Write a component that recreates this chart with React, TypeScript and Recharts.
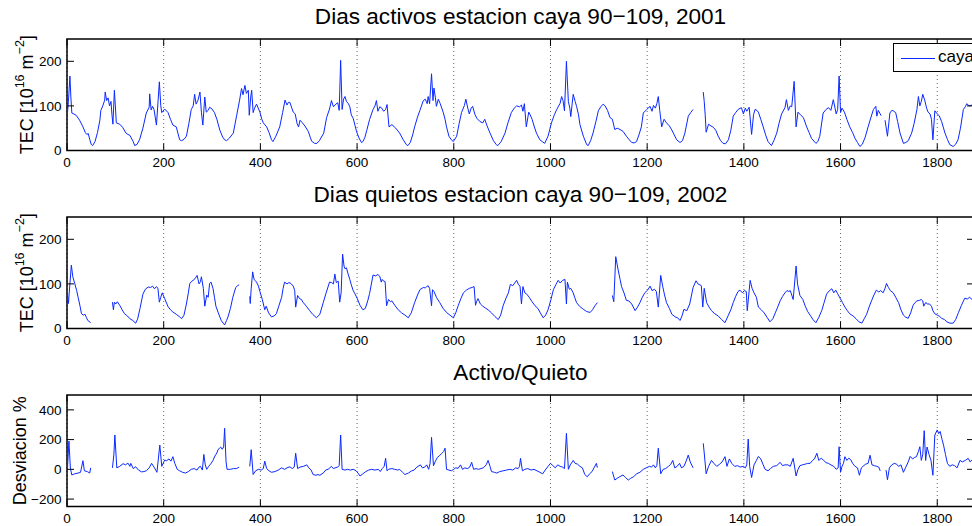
import React from 'react';
import { LineChart, Line, XAxis, YAxis, CartesianGrid, ReferenceArea, Legend } from 'recharts';

type P = [number, number | null];

// ---------- data ----------
const xTicks = [0, 200, 400, 600, 800, 1000, 1200, 1400, 1600, 1800];
const X_MAX = 1876;
const tecTicks = [0, 100, 200];
const tecDomain = [0, 250];
const devTicks = [-200, 0, 200, 400];
const devDomain = [-250, 500];

const title1 = 'Dias activos estacion caya 90\u2212109, 2001';
const title2 = 'Dias quietos estacion caya 90\u2212109, 2002';
const title3 = 'Activo/Quieto';
const legendName = 'caya';

const activo2001: P[] = [
  [0,73],[3,110],[6,167],[8,120],[10,84],[14,82],[19,79],[26,68],[33,53],[38,40],[41,36],[44,38],[47,25],[50,14],[53,11],[58,20],[63,40],[68,68],[70,90],[74,100],[78,113],[79,131],[82,112],[85,118],[88,100],[91,110],[93,80],[95,59],[98,135],[100,100],[102,62],[109,59],[115,52],[122,39],[126,36],[130,34],[137,20],[140,11],[145,14],[150,24],[157,50],[164,84],[170,97],[171,127],[174,91],[177,99],[180,92],[185,57],[191,154],[194,100],[196,85],[202,93],[209,85],[214,70],[219,57],[226,53],[233,24],[237,22],[242,25],[247,32],[252,60],[257,92],[261,100],[264,126],[267,104],[271,113],[275,131],[278,86],[281,57],[285,120],[288,86],[292,90],[295,97],[300,93],[305,85],[310,70],[316,46],[322,30],[326,24],[330,22],[336,28],[344,39],[351,79],[357,113],[361,139],[364,125],[368,146],[371,128],[375,135],[377,79],[380,120],[382,135],[385,85],[388,95],[392,104],[399,86],[403,70],[406,62],[413,53],[418,40],[423,24],[426,20],[432,32],[440,53],[446,85],[451,113],[455,102],[458,108],[461,108],[465,95],[468,86],[472,82],[476,60],[479,53],[482,68],[487,62],[492,55],[499,43],[503,30],[506,21],[512,16],[517,16],[522,22],[531,39],[537,74],[543,93],[547,112],[551,98],[556,104],[560,107],[563,90],[566,202],[569,92],[572,115],[575,121],[578,110],[582,105],[585,98],[588,80],[592,72],[596,55],[599,42],[604,28],[609,18],[612,20],[616,29],[620,45],[626,70],[633,92],[637,100],[640,112],[643,88],[647,98],[651,95],[655,88],[659,92],[662,103],[666,53],[672,58],[680,50],[688,39],[695,25],[702,13],[705,11],[710,18],[715,35],[719,53],[725,75],[730,90],[737,112],[741,115],[745,105],[747,121],[750,105],[754,172],[757,112],[759,140],[762,118],[764,99],[768,115],[772,105],[778,86],[782,70],[785,53],[790,32],[795,24],[799,20],[806,32],[811,60],[816,85],[822,101],[825,115],[829,95],[832,82],[836,95],[839,99],[844,80],[848,72],[854,65],[860,62],[864,70],[869,55],[875,39],[882,22],[888,13],[891,11],[898,20],[906,39],[912,62],[919,85],[925,95],[930,100],[936,98],[940,102],[943,88],[946,105],[950,53],[955,86],[958,80],[962,70],[966,55],[971,39],[978,24],[983,20],[988,16],[995,32],[1002,62],[1008,80],[1013,92],[1020,106],[1023,121],[1026,112],[1029,89],[1033,200],[1037,110],[1040,95],[1042,76],[1047,126],[1051,110],[1054,99],[1058,80],[1061,58],[1068,32],[1075,13],[1078,11],[1083,22],[1088,39],[1094,65],[1099,89],[1104,98],[1109,104],[1113,100],[1118,90],[1123,74],[1128,70],[1133,47],[1138,50],[1144,47],[1150,43],[1157,32],[1163,24],[1168,18],[1173,17],[1178,20],[1183,35],[1188,53],[1192,84],[1199,92],[1206,99],[1210,88],[1213,101],[1217,95],[1220,105],[1223,121],[1226,90],[1230,53],[1235,70],[1240,62],[1246,55],[1251,46],[1256,35],[1261,24],[1268,18],[1273,22],[1278,39],[1285,77],[1290,85],[1295,92],[1297,null],
  [1316,131],[1318,110],[1320,80],[1322,41],[1327,59],[1332,55],[1337,52],[1342,45],[1347,32],[1352,22],[1357,16],[1362,15],[1368,24],[1373,45],[1378,77],[1383,85],[1388,92],[1395,96],[1399,82],[1403,95],[1406,88],[1411,97],[1416,36],[1420,80],[1423,92],[1427,90],[1430,86],[1435,70],[1440,53],[1445,35],[1450,20],[1457,11],[1462,22],[1468,39],[1473,62],[1478,82],[1485,96],[1488,114],[1492,90],[1496,100],[1499,98],[1504,155],[1508,53],[1512,86],[1517,80],[1523,74],[1530,53],[1535,40],[1540,27],[1549,16],[1553,20],[1557,32],[1564,84],[1570,92],[1575,96],[1580,90],[1585,114],[1591,82],[1594,92],[1597,167],[1600,85],[1603,95],[1608,86],[1613,70],[1619,53],[1625,40],[1630,27],[1635,18],[1640,9],[1645,14],[1651,30],[1657,53],[1663,75],[1668,92],[1673,99],[1675,77],[1678,90],[1682,82],[1684,78],[1686,null],
  [1692,68],[1697,32],[1702,84],[1706,90],[1709,89],[1714,85],[1718,65],[1723,39],[1730,16],[1735,18],[1740,22],[1747,39],[1752,60],[1758,92],[1761,121],[1764,100],[1767,110],[1770,126],[1774,113],[1778,95],[1781,86],[1785,82],[1788,70],[1791,24],[1795,89],[1800,82],[1804,78],[1809,65],[1816,39],[1821,25],[1826,13],[1833,9],[1838,14],[1843,24],[1848,50],[1854,92],[1858,98],[1861,105],[1866,100],[1872,102],[1876,98],
];

const quieto2002: P[] = [
  [1,78],[3,56],[6,100],[9,142],[12,116],[16,101],[20,85],[23,70],[27,50],[30,33],[34,30],[37,32],[40,25],[43,18],[49,13],[50,null],
  [94,59],[96,42],[98,59],[101,55],[104,60],[109,52],[114,42],[119,33],[125,28],[130,22],[136,18],[142,12],[146,21],[151,45],[157,77],[162,88],[168,93],[173,92],[177,95],[181,89],[185,94],[188,90],[191,59],[194,70],[197,80],[202,67],[209,49],[214,42],[219,37],[226,32],[233,26],[237,22],[242,30],[247,55],[251,80],[254,101],[258,106],[261,108],[265,112],[269,119],[271,110],[273,100],[276,105],[278,116],[282,90],[285,50],[289,75],[292,70],[295,101],[298,104],[302,90],[305,70],[308,50],[313,35],[319,18],[323,12],[326,8],[330,18],[333,26],[338,45],[343,70],[349,92],[353,96],[356,98],[357,null],
  [378,72],[379,56],[381,90],[384,127],[387,110],[389,108],[392,104],[396,95],[399,83],[404,65],[409,42],[412,50],[417,35],[423,26],[428,28],[433,33],[438,50],[444,70],[447,90],[450,104],[455,100],[459,103],[463,101],[468,95],[471,85],[473,48],[477,74],[481,67],[485,65],[488,59],[495,50],[502,40],[508,32],[513,27],[516,24],[523,32],[530,58],[536,80],[543,104],[547,103],[551,100],[554,122],[557,103],[561,106],[564,59],[567,80],[570,167],[573,140],[575,134],[578,136],[582,120],[585,110],[588,98],[592,85],[595,79],[600,68],[606,52],[612,42],[617,45],[622,62],[626,79],[633,120],[638,118],[643,121],[647,117],[650,104],[652,110],[654,107],[658,105],[661,51],[665,65],[669,60],[672,62],[678,52],[685,42],[692,35],[699,30],[706,24],[712,35],[719,58],[725,75],[730,87],[737,92],[741,91],[744,94],[747,96],[750,90],[754,51],[756,87],[759,83],[764,70],[771,58],[778,45],[785,36],[792,30],[799,24],[804,35],[809,51],[815,68],[820,80],[826,86],[832,90],[838,92],[842,94],[845,52],[847,60],[850,67],[855,55],[860,50],[865,46],[871,42],[878,35],[885,27],[892,20],[897,30],[902,51],[908,68],[913,80],[917,99],[922,96],[926,102],[930,108],[934,98],[937,95],[940,55],[943,94],[947,80],[951,77],[956,70],[962,60],[968,51],[974,45],[979,35],[985,24],[990,30],[995,42],[1001,65],[1006,87],[1011,98],[1016,108],[1020,102],[1025,108],[1030,110],[1033,55],[1035,104],[1039,88],[1042,90],[1047,80],[1050,70],[1054,58],[1060,50],[1068,43],[1075,38],[1082,36],[1087,42],[1092,51],[1097,58],[1098,null],
  [1128,74],[1131,60],[1135,161],[1140,131],[1144,110],[1147,94],[1152,80],[1157,63],[1162,62],[1168,55],[1175,40],[1180,48],[1185,58],[1190,70],[1195,80],[1201,86],[1206,95],[1210,85],[1215,88],[1219,83],[1223,48],[1228,119],[1232,95],[1236,75],[1240,58],[1246,45],[1251,32],[1258,26],[1263,24],[1268,18],[1272,28],[1276,43],[1282,40],[1288,55],[1295,92],[1301,107],[1305,100],[1309,98],[1312,96],[1315,48],[1318,90],[1323,58],[1328,48],[1333,40],[1340,33],[1347,28],[1354,20],[1361,13],[1368,30],[1373,42],[1378,58],[1383,72],[1388,83],[1392,86],[1397,80],[1401,85],[1405,83],[1407,40],[1413,108],[1417,90],[1421,80],[1426,70],[1430,48],[1436,42],[1442,35],[1448,25],[1454,15],[1460,22],[1465,35],[1470,48],[1475,62],[1480,72],[1485,80],[1489,85],[1493,83],[1496,85],[1502,65],[1508,140],[1511,100],[1516,74],[1522,65],[1527,50],[1532,38],[1537,30],[1543,20],[1549,13],[1555,25],[1561,40],[1566,58],[1571,77],[1577,85],[1582,89],[1586,80],[1590,86],[1594,78],[1599,68],[1604,58],[1609,48],[1614,40],[1619,33],[1626,28],[1632,22],[1638,15],[1644,12],[1649,22],[1654,32],[1659,48],[1664,62],[1669,75],[1674,86],[1679,82],[1683,85],[1688,80],[1692,90],[1695,101],[1699,92],[1703,85],[1709,80],[1714,70],[1720,58],[1725,42],[1730,30],[1735,25],[1740,23],[1745,35],[1750,52],[1754,58],[1758,62],[1763,63],[1767,65],[1770,62],[1772,50],[1776,58],[1780,55],[1784,55],[1788,50],[1791,40],[1795,33],[1800,30],[1805,27],[1809,23],[1815,20],[1820,15],[1826,12],[1833,12],[1838,20],[1844,36],[1850,52],[1857,68],[1862,66],[1867,70],[1872,65],[1876,67],
];

const activoQuieto: P[] = [
  [1,7],[4,190],[7,8],[10,-38],[16,-30],[23,-25],[28,-20],[33,58],[36,-10],[42,-15],[47,-25],[49,10],[50,null],
  [94,10],[97,100],[99,231],[103,10],[109,20],[116,38],[121,30],[126,42],[130,20],[132,40],[137,5],[142,17],[148,-5],[154,-17],[159,-15],[164,-10],[170,10],[175,40],[180,15],[186,-20],[192,163],[196,20],[202,62],[206,58],[211,70],[215,55],[219,85],[223,40],[228,0],[233,-10],[239,-20],[245,-25],[251,-15],[257,0],[263,5],[269,-5],[273,15],[276,20],[280,-5],[283,100],[286,30],[289,0],[293,20],[297,35],[302,60],[306,90],[310,110],[312,130],[316,145],[318,150],[321,135],[324,150],[326,276],[329,50],[331,0],[338,0],[344,5],[350,5],[356,14],[357,null],
  [378,20],[381,132],[385,-35],[390,-10],[396,0],[402,-5],[406,5],[409,55],[413,5],[418,-10],[423,-20],[430,-15],[437,-5],[444,10],[450,0],[455,10],[461,17],[466,5],[470,15],[473,108],[477,5],[482,15],[489,20],[496,30],[500,10],[505,-5],[509,-35],[515,-40],[519,-35],[523,-40],[530,-25],[535,-5],[540,0],[547,20],[551,5],[556,12],[560,15],[563,25],[566,231],[569,0],[575,-5],[580,0],[586,-5],[592,0],[598,-10],[602,-25],[606,-45],[612,-30],[618,-15],[624,-5],[630,0],[637,-5],[644,0],[648,-15],[652,5],[656,20],[659,74],[662,-10],[665,0],[672,5],[678,0],[684,-5],[688,0],[694,-20],[699,-35],[706,-25],[713,-10],[718,-5],[722,10],[726,20],[731,30],[735,10],[740,15],[744,30],[748,0],[751,40],[754,215],[758,24],[762,55],[766,80],[770,90],[775,107],[779,120],[782,142],[785,0],[790,-5],[795,-10],[800,0],[804,10],[809,7],[814,30],[818,0],[823,10],[828,5],[833,15],[837,47],[841,0],[846,5],[851,0],[856,5],[861,10],[867,30],[871,60],[875,20],[878,-15],[884,-20],[889,-25],[895,-15],[902,-10],[909,-5],[916,0],[922,-5],[928,10],[933,5],[936,20],[938,74],[942,-10],[947,0],[953,5],[960,-5],[966,0],[972,-10],[978,-20],[984,-30],[989,-5],[995,20],[1000,40],[1005,25],[1010,10],[1015,30],[1020,20],[1025,15],[1029,5],[1033,242],[1037,0],[1041,30],[1045,50],[1047,60],[1051,40],[1056,35],[1061,20],[1066,10],[1071,-35],[1076,-50],[1081,-30],[1086,-15],[1090,10],[1095,40],[1097,12],[1098,null],
  [1128,-15],[1133,-72],[1138,-60],[1143,-50],[1150,-38],[1155,-55],[1161,-72],[1166,-60],[1172,-50],[1178,-30],[1185,-20],[1192,0],[1198,10],[1205,20],[1209,15],[1213,30],[1217,10],[1220,25],[1223,142],[1228,-30],[1233,0],[1238,5],[1244,20],[1249,35],[1253,60],[1257,10],[1262,20],[1267,40],[1271,10],[1276,20],[1280,50],[1285,96],[1289,50],[1295,10],[1296,null],
  [1316,175],[1318,110],[1322,-30],[1327,20],[1333,60],[1338,40],[1344,20],[1350,35],[1355,50],[1361,85],[1365,20],[1370,70],[1375,40],[1381,20],[1387,25],[1392,15],[1399,20],[1403,10],[1406,30],[1409,204],[1412,20],[1416,-55],[1421,30],[1426,60],[1430,87],[1435,70],[1440,30],[1444,0],[1450,-10],[1455,5],[1461,20],[1468,25],[1475,47],[1480,25],[1485,30],[1491,30],[1496,20],[1502,74],[1508,-45],[1512,0],[1516,25],[1521,30],[1527,35],[1532,40],[1537,40],[1542,60],[1546,70],[1551,108],[1555,60],[1560,75],[1565,60],[1570,45],[1575,40],[1580,30],[1586,20],[1591,0],[1595,10],[1597,152],[1600,-20],[1603,20],[1606,40],[1609,85],[1613,60],[1617,75],[1621,65],[1625,40],[1630,20],[1635,10],[1639,-40],[1643,10],[1648,25],[1652,35],[1657,40],[1661,95],[1665,30],[1670,25],[1675,20],[1679,15],[1682,-10],[1684,null],
  [1694,-5],[1697,-70],[1701,10],[1706,30],[1711,40],[1716,35],[1720,20],[1725,30],[1730,-20],[1735,15],[1740,50],[1744,87],[1749,70],[1753,80],[1757,85],[1761,120],[1764,152],[1767,60],[1770,100],[1773,260],[1776,60],[1779,150],[1783,100],[1787,60],[1791,-40],[1795,231],[1800,265],[1803,240],[1806,255],[1810,200],[1813,163],[1817,100],[1821,40],[1826,20],[1831,30],[1836,25],[1841,10],[1847,60],[1852,50],[1858,60],[1864,74],[1868,50],[1872,64],[1876,60],
];

// ---------- layout / style ----------
const FONT = '"Liberation Sans", Arial, Helvetica, sans-serif';
const CHART_W = 1000;
const PLOT_LEFT = 67;
const PLOT_RIGHT = 974;
const M_TOP = 10;
const PLOT_H = 111.5;
const XAXIS_H = 30;
const YAXIS_W = 60;
const LINE_COLOR = '#0a28ff';
const TICK_LEN = 7;

const toRows = (pts: P[]) => pts.map(([x, v]) => ({ x, v }));

const fmt = (v: number) => (v < 0 ? '\u2212' + Math.abs(v) : String(v));

const XTick = (props: any) => {
  const { x, payload } = props;
  const top = M_TOP;
  const bottom = M_TOP + PLOT_H;
  return (
    <g>
      <line x1={x} x2={x} y1={top} y2={top + TICK_LEN} stroke="#000" strokeWidth={1} />
      <line x1={x} x2={x} y1={bottom - TICK_LEN} y2={bottom} stroke="#000" strokeWidth={1} />
      <text x={x} y={bottom + 16} textAnchor="middle" fontSize={13.5} fontFamily={FONT} fill="#000">
        {fmt(payload.value)}
      </text>
    </g>
  );
};

const YTick = (props: any) => {
  const { y, payload } = props;
  return (
    <g>
      <line x1={PLOT_LEFT} x2={PLOT_LEFT + TICK_LEN} y1={y} y2={y} stroke="#000" strokeWidth={1} />
      <line x1={PLOT_RIGHT - TICK_LEN} x2={PLOT_RIGHT} y1={y} y2={y} stroke="#000" strokeWidth={1} />
      <text x={PLOT_LEFT - 5.5} y={y} dy="0.36em" textAnchor="end" fontSize={13.5} fontFamily={FONT} fill="#000">
        {fmt(payload.value)}
      </text>
    </g>
  );
};

const TecLabel = () => {
  const cx = 33;
  const cy = M_TOP + PLOT_H / 2;
  return (
    <text transform={`translate(${cx},${cy}) rotate(-90)`} textAnchor="middle" fontSize={18} fontFamily={FONT} fill="#000">
      <tspan>TEC [10</tspan>
      <tspan dy={-9} fontSize={12.5}>16</tspan>
      <tspan dy={9}> m</tspan>
      <tspan dy={-9} fontSize={12.5}>{'\u22122'}</tspan>
      <tspan dy={9}>]</tspan>
    </text>
  );
};

const DevLabel = () => {
  const cx = 25.5;
  const cy = M_TOP + PLOT_H / 2;
  return (
    <text transform={`translate(${cx},${cy}) rotate(-90)`} textAnchor="middle" fontSize={18} fontFamily={FONT} fill="#000">
      Desviacion %
    </text>
  );
};

const LegendBox = () => (
  <div
    style={{
      position: 'relative',
      width: 110,
      height: 29,
      border: '1px solid #000',
      background: '#fff',
      boxSizing: 'border-box',
      fontFamily: FONT,
    }}
  >
    <div style={{ position: 'absolute', left: 7, top: 14, width: 34, height: 0, borderTop: `1px solid ${LINE_COLOR}` }} />
    <span style={{ position: 'absolute', left: 44, top: 4, fontSize: 17, lineHeight: '17px', color: '#000', whiteSpace: 'nowrap' }}>
      {legendName}
    </span>
  </div>
);

type PanelProps = {
  plotTop: number;
  series: P[];
  yDomain: number[];
  yTicks: number[];
  title: string;
  yLabel: React.ReactElement;
  legend?: boolean;
};

const Panel = ({ plotTop, series, yDomain, yTicks, title, yLabel, legend }: PanelProps) => {
  const chartTop = plotTop - M_TOP;
  const rows = toRows(series);
  return (
    <>
      <div
        style={{
          position: 'absolute',
          left: PLOT_LEFT,
          width: PLOT_RIGHT - PLOT_LEFT,
          top: plotTop - 33,
          textAlign: 'center',
          fontFamily: FONT,
          fontSize: 22.6,
          lineHeight: '22.6px',
          color: '#000',
          whiteSpace: 'nowrap',
        }}
      >
        {title}
      </div>
      <div style={{ position: 'absolute', left: 0, top: chartTop }}>
        <LineChart
          width={CHART_W}
          height={M_TOP + PLOT_H + XAXIS_H}
          margin={{ top: M_TOP, right: CHART_W - PLOT_RIGHT, bottom: 0, left: PLOT_LEFT - YAXIS_W }}
        >
          <CartesianGrid vertical horizontal={false} stroke="#666" strokeDasharray="1 3" strokeWidth={1} />
          <XAxis
            dataKey="x"
            type="number"
            domain={[0, X_MAX]}
            ticks={xTicks}
            allowDataOverflow
            height={XAXIS_H}
            axisLine={false}
            tickLine={false}
            tick={XTick}
            interval={0}
          />
          <YAxis
            type="number"
            domain={yDomain}
            ticks={yTicks}
            allowDataOverflow
            width={YAXIS_W}
            axisLine={false}
            tickLine={false}
            tick={YTick}
            interval={0}
            label={{ content: () => yLabel }}
          />
          <ReferenceArea
            x1={0}
            x2={X_MAX}
            y1={yDomain[0]}
            y2={yDomain[1]}
            fill="none"
            fillOpacity={0}
            stroke="#000"
            strokeWidth={1.5}
            ifOverflow="visible"
          />
          <Line
            data={rows}
            dataKey="v"
            name={legendName}
            type="linear"
            stroke={LINE_COLOR}
            strokeWidth={1}
            dot={false}
            activeDot={false}
            connectNulls={false}
            isAnimationActive={false}
          />
          {legend && (
            <Legend
              layout="vertical"
              align="center"
              verticalAlign="middle"
              content={() => <LegendBox />}
              wrapperStyle={{ position: 'absolute', left: 893, top: 43.3 - chartTop, width: 110, height: 29 }}
            />
          )}
        </LineChart>
      </div>
    </>
  );
};

export default function App() {
  return (
    <div
      style={{
        position: 'absolute',
        left: 0,
        top: 0,
        width: 972,
        height: 526,
        overflow: 'hidden',
        background: '#fff',
      }}
    >
      <Panel plotTop={39} series={activo2001} yDomain={tecDomain} yTicks={tecTicks} title={title1} yLabel={<TecLabel />} legend />
      <Panel plotTop={216.5} series={quieto2002} yDomain={tecDomain} yTicks={tecTicks} title={title2} yLabel={<TecLabel />} />
      <Panel plotTop={395} series={activoQuieto} yDomain={devDomain} yTicks={devTicks} title={title3} yLabel={<DevLabel />} />
    </div>
  );
}
